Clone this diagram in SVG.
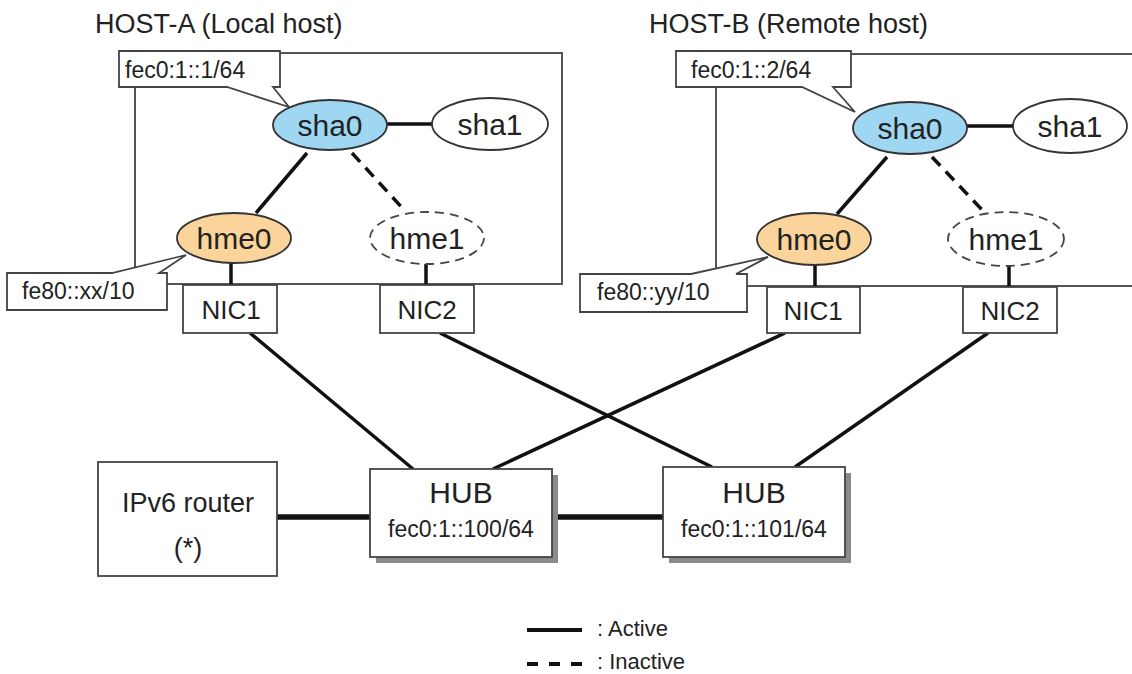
<svg xmlns="http://www.w3.org/2000/svg" width="1132" height="674" viewBox="0 0 1132 674">
<style>
text{font-family:"Liberation Sans",Arial,sans-serif;fill:#222}
.host{fill:none;stroke:#555;stroke-width:2}
.call{fill:#fff;stroke:#444;stroke-width:1.8}
.box{fill:#fff;stroke:#444;stroke-width:1.8}
.ell{stroke:#333;stroke-width:1.8}
.dash{fill:#fff;stroke:#444;stroke-width:1.8;stroke-dasharray:9 6}
.act{stroke:#111;stroke-width:3.5;fill:none}
.ina{stroke:#111;stroke-width:3.5;fill:none;stroke-dasharray:12 8}
.thick{stroke:#111;stroke-width:5.5;fill:none}
.lbl{font-size:27px}
.big{font-size:30px}
.nic{font-size:26px}
.sm{font-size:23px}
.shadow{fill:#8a8a8a}
</style>
<g id="hostA">
<rect class="host" x="135" y="53" width="427" height="231"/>
<text class="lbl" x="95" y="33">HOST-A (Local host)</text>
</g>
<g id="hostB">
<rect class="host" x="716" y="54" width="500" height="232"/>
<text class="lbl" x="649" y="33">HOST-B (Remote host)</text>
</g>
<g id="connectors">
<line class="act" x1="387" y1="124" x2="432" y2="124"/>
<line class="act" x1="307" y1="153" x2="256" y2="213"/>
<line class="ina" x1="352" y1="153" x2="406" y2="212"/>
<line class="act" x1="231" y1="263" x2="231" y2="285"/>
<line class="act" x1="426" y1="264" x2="426" y2="285"/>
<line class="act" x1="967" y1="126" x2="1013" y2="126"/>
<line class="act" x1="887" y1="157" x2="837" y2="214"/>
<line class="ina" x1="932" y1="157" x2="985" y2="213"/>
<line class="act" x1="815" y1="265" x2="815" y2="287"/>
<line class="act" x1="1009" y1="266" x2="1009" y2="287"/>
<line class="act" x1="250" y1="333" x2="413" y2="469"/>
<line class="act" x1="440" y1="333" x2="712" y2="467"/>
<line class="act" x1="785" y1="333" x2="493" y2="469"/>
<line class="act" x1="988" y1="333" x2="795" y2="467"/>
<line class="thick" x1="277" y1="517" x2="370" y2="517"/>
<line class="thick" x1="552" y1="517" x2="663" y2="517"/>
</g>
<g id="callA1">
<path class="call" d="M119,51 H280 V87 H273 L289,107 L227,87 H119 Z"/>
<text class="sm" x="125" y="78">fec0:1::1/64</text>
</g>
<g id="callA2">
<path class="call" d="M7,273 H112 L186,255 L159,273 H167 V310 H7 Z"/>
<text class="sm" x="22" y="299" font-size="22">fe80::xx/10</text>
</g>
<g id="callB1">
<path class="call" d="M676,51 H851 V87 H833 L855,112 L802,87 H676 Z"/>
<text class="sm" x="691" y="78">fec0:1::2/64</text>
</g>
<g id="callB2">
<path class="call" d="M580,274 H691 L768,257 L736,274 H747 V312 H580 Z"/>
<text class="sm" x="597" y="300">fe80::yy/10</text>
</g>
<g id="shaA0"><ellipse class="ell" cx="330" cy="125" rx="57" ry="25" fill="#9fd6f2"/><text class="big" x="330" y="136" text-anchor="middle">sha0</text></g>
<g id="shaA1"><ellipse class="ell" cx="490" cy="124" rx="58" ry="26" fill="#fff"/><text class="big" x="490" y="135" text-anchor="middle">sha1</text></g>
<g id="hmeA0"><ellipse class="ell" cx="234" cy="238" rx="57" ry="25" fill="#fbd49b"/><text class="big" x="234" y="249" text-anchor="middle">hme0</text></g>
<g id="hmeA1"><ellipse class="dash" cx="427" cy="238" rx="57" ry="26"/><text class="big" x="427" y="249" text-anchor="middle">hme1</text></g>
<g id="nicA1"><rect class="box" x="183" y="285" width="94" height="48"/><text class="nic" x="231" y="319" text-anchor="middle">NIC1</text></g>
<g id="nicA2"><rect class="box" x="380" y="285" width="94" height="48"/><text class="nic" x="427" y="319" text-anchor="middle">NIC2</text></g>
<g id="shaB0"><ellipse class="ell" cx="910" cy="128" rx="57" ry="26" fill="#9fd6f2"/><text class="big" x="910" y="139" text-anchor="middle">sha0</text></g>
<g id="shaB1"><ellipse class="ell" cx="1070" cy="126" rx="57" ry="27" fill="#fff"/><text class="big" x="1070" y="137" text-anchor="middle">sha1</text></g>
<g id="hmeB0"><ellipse class="ell" cx="814" cy="239" rx="57" ry="26" fill="#fbd49b"/><text class="big" x="814" y="250" text-anchor="middle">hme0</text></g>
<g id="hmeB1"><ellipse class="dash" cx="1006" cy="239" rx="58" ry="27"/><text class="big" x="1006" y="250" text-anchor="middle">hme1</text></g>
<g id="nicB1"><rect class="box" x="767" y="287" width="93" height="46"/><text class="nic" x="813" y="320" text-anchor="middle">NIC1</text></g>
<g id="nicB2"><rect class="box" x="963" y="287" width="94" height="46"/><text class="nic" x="1010" y="320" text-anchor="middle">NIC2</text></g>
<g id="router"><rect class="box" x="98" y="462" width="179" height="114"/><text class="lbl" x="188" y="512" text-anchor="middle">IPv6 router</text><text class="lbl" x="188" y="557" text-anchor="middle">(*)</text></g>
<g id="hub1"><rect class="shadow" x="376" y="475" width="182" height="88"/><rect class="box" x="370" y="469" width="182" height="88"/><text class="big" x="461" y="503" text-anchor="middle">HUB</text><text class="sm" x="461" y="537" text-anchor="middle">fec0:1::100/64</text></g>
<g id="hub2"><rect class="shadow" x="669" y="473" width="182" height="90"/><rect class="box" x="663" y="467" width="182" height="90"/><text class="big" x="754" y="503" text-anchor="middle">HUB</text><text class="sm" x="754" y="537" text-anchor="middle">fec0:1::101/64</text></g>
<g id="legend">
<line x1="527" y1="630" x2="582" y2="630" stroke="#111" stroke-width="4"/>
<line x1="527" y1="664" x2="582" y2="664" stroke="#111" stroke-width="4" stroke-dasharray="11 11"/>
<text x="597" y="636" font-size="22">: Active</text>
<text x="597" y="669" font-size="22">: Inactive</text>
</g>
</svg>
